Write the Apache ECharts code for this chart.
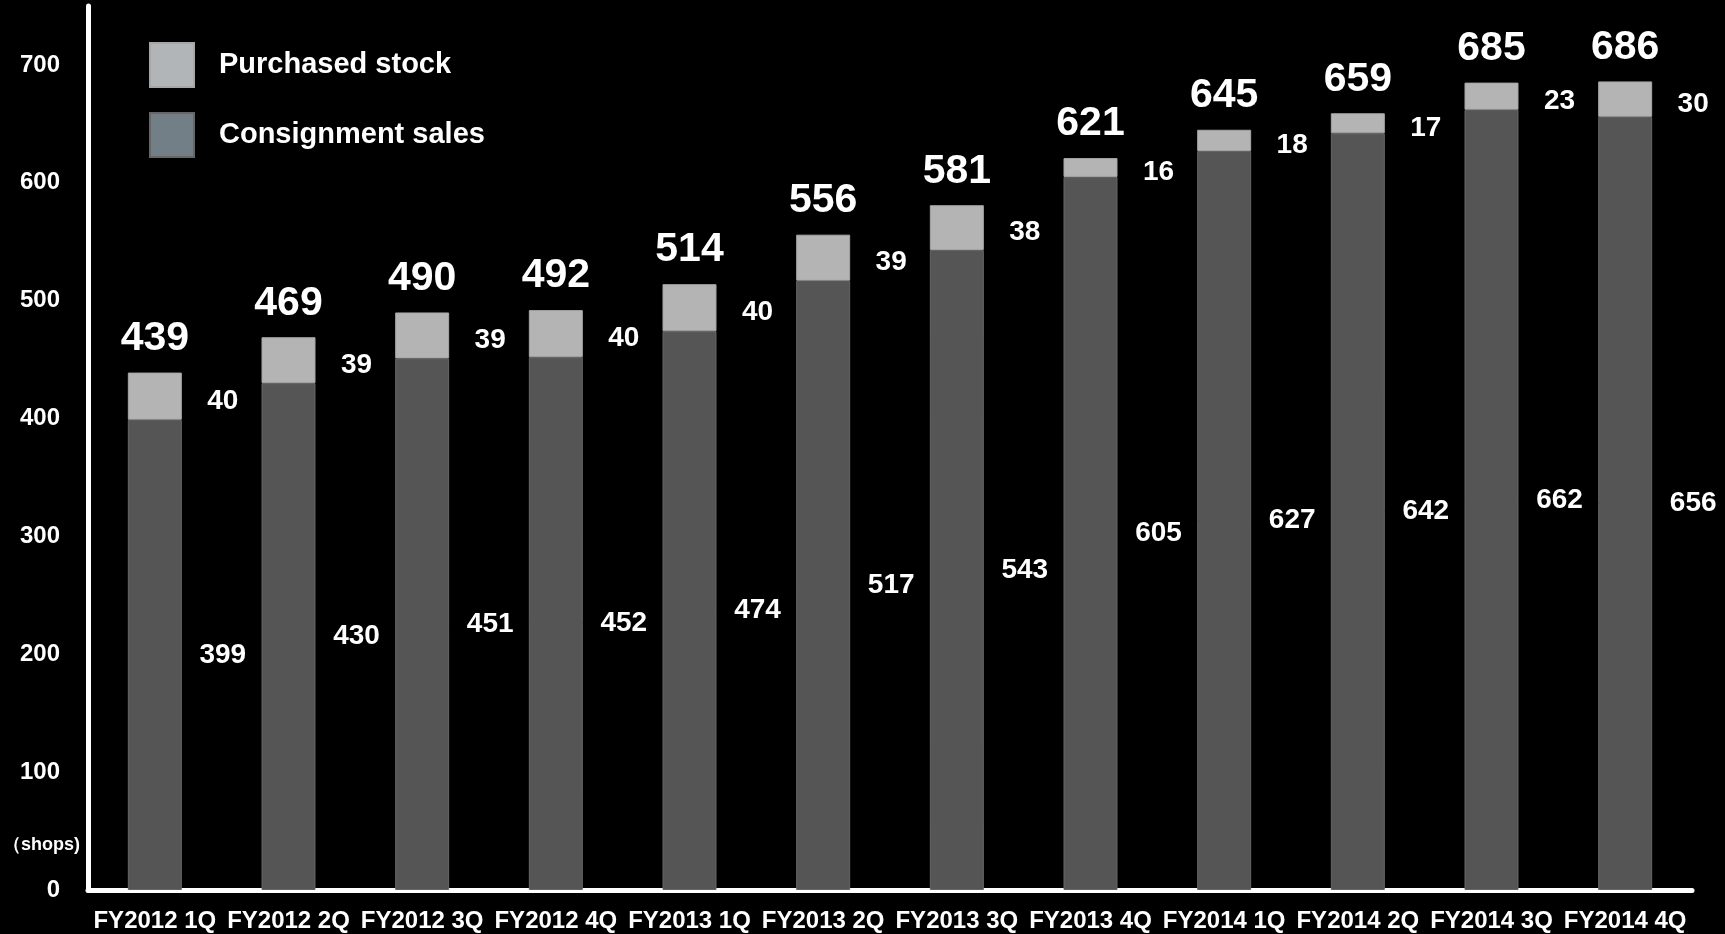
<!DOCTYPE html>
<html>
<head>
<meta charset="utf-8">
<title>Shops by quarter</title>
<script src="https://cdn.jsdelivr.net/npm/echarts@6/dist/echarts.min.js"></script>
<style>
  html, body { margin: 0; padding: 0; background: #000; }
  #chart { width: 1725px; height: 934px; }
</style>
</head>
<body>
<div id="chart"></div>
<script>
// Quarterly shop counts, split by sales channel
const quarters = [
  'FY2012 1Q', 'FY2012 2Q', 'FY2012 3Q', 'FY2012 4Q',
  'FY2013 1Q', 'FY2013 2Q', 'FY2013 3Q', 'FY2013 4Q',
  'FY2014 1Q', 'FY2014 2Q', 'FY2014 3Q', 'FY2014 4Q'
];
const consignmentSales = [399, 430, 451, 452, 474, 517, 543, 605, 627, 642, 662, 656];
const purchasedStock = [40, 39, 39, 40, 40, 39, 38, 16, 18, 17, 23, 30];
const yTicks = [0, 100, 200, 300, 400, 500, 600, 700];

const totals = consignmentSales.map((v, i) => v + purchasedStock[i]);

const FONT = '"Liberation Sans", Arial, Helvetica, sans-serif';

const chart = echarts.init(document.getElementById('chart'));
chart.setOption({
  backgroundColor: '#000000',
  animation: false,
  grid: { left: 88, right: 33, top: 6, bottom: 44, containLabel: false },
  legend: {
    orient: 'vertical',
    left: 144,
    top: 37,
    itemWidth: 44,
    itemHeight: 44,
    itemGap: 24,
    icon: 'rect',
    selectedMode: false,
    textStyle: { color: '#ffffff', fontSize: 29, fontWeight: 'bold', fontFamily: FONT, padding: [0, 0, 0, 20] },
    data: [
      { name: 'Purchased stock', itemStyle: { color: '#b2b5b8' } },
      { name: 'Consignment sales', itemStyle: { color: '#737f87' } }
    ]
  },
  xAxis: {
    type: 'category',
    data: quarters,
    axisLine: { lineStyle: { color: '#ffffff', width: 5 } },
    axisTick: { show: false },
    axisLabel: {
      color: '#ffffff', fontSize: 24, fontWeight: 'bold', fontFamily: FONT,
      margin: 19, interval: 0
    }
  },
  yAxis: {
    type: 'value',
    min: 0,
    max: 750,
    interval: 100,
    splitLine: { show: false },
    axisTick: { show: false },
    axisLine: { show: true, lineStyle: { color: '#ffffff', width: 5 } },
    axisLabel: {
      color: '#ffffff', fontSize: 24, fontWeight: 'bold', fontFamily: FONT, margin: 28,
      formatter: v => (yTicks.indexOf(v) >= 0 ? String(v) : '')
    }
  },
  graphic: [{
    type: 'text',
    left: 3,
    top: 836,
    style: { text: '（shops)', fill: '#ffffff', font: 'bold 18px ' + FONT }
  }],
  series: [
    {
      name: 'Consignment sales',
      type: 'bar',
      stack: 'shops',
      barWidth: 54,
      data: consignmentSales,
      itemStyle: { color: '#555555', borderColor: '#666666', borderWidth: 1 },
      label: {
        show: true, position: 'right', distance: 41, align: 'center',
        color: '#ffffff', fontSize: 28, fontWeight: 'bold', fontFamily: FONT
      }
    },
    {
      name: 'Purchased stock',
      type: 'bar',
      stack: 'shops',
      barWidth: 54,
      data: purchasedStock,
      itemStyle: { color: '#b4b4b4', borderColor: '#a6a6a6', borderWidth: 1 },
      label: {
        show: true, position: 'right', distance: 41, align: 'center', offset: [0, 5],
        color: '#ffffff', fontSize: 28, fontWeight: 'bold', fontFamily: FONT
      }
    },
    {
      name: 'Total',
      type: 'scatter',
      data: totals,
      symbolSize: 1,
      itemStyle: { color: 'rgba(0,0,0,0)', opacity: 1 },
      z: 5,
      label: {
        show: true, position: 'top', distance: 13,
        color: '#ffffff', fontSize: 41, fontWeight: 'bold', fontFamily: FONT
      }
    }
  ]
});
</script>
</body>
</html>
